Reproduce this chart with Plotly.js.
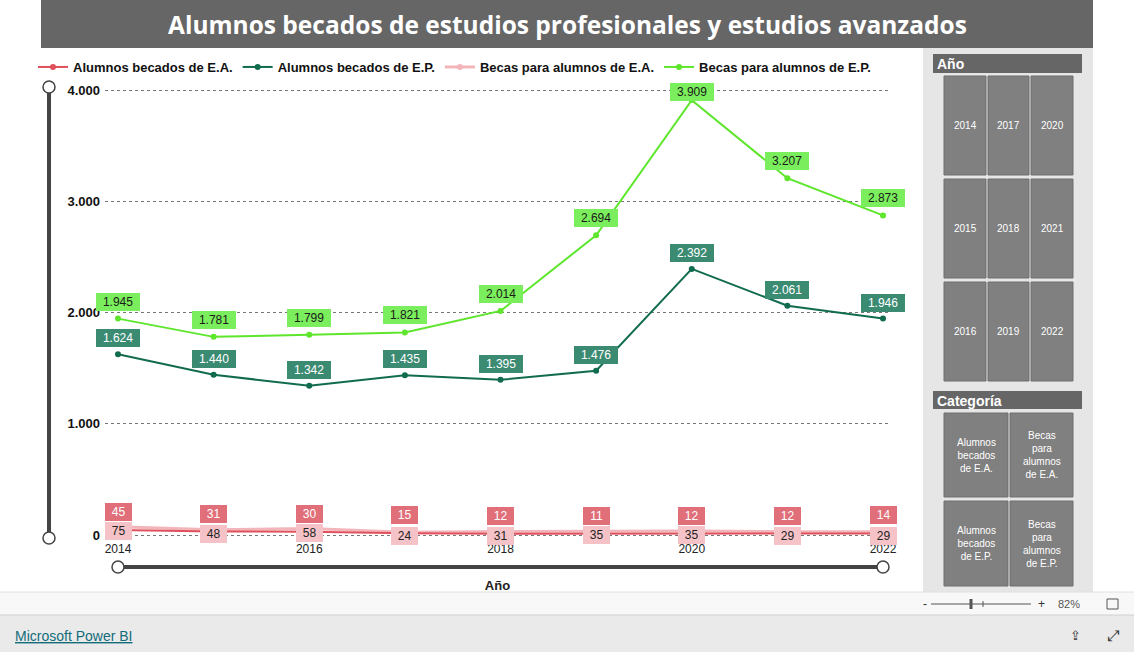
<!DOCTYPE html>
<html>
<head>
<meta charset="utf-8">
<script src="https://cdn.plot.ly/plotly-3.0.1.min.js"></script>
<style>
html,body{margin:0;padding:0;background:#ffffff;overflow:hidden;}
#chart{width:1134px;height:652px;}
</style>
</head>
<body>
<div id="chart"></div>
<script>
// ---- data ----
const years = [2014, 2015, 2016, 2017, 2018, 2019, 2020, 2021, 2022];
const alumnosEA = [45, 31, 30, 15, 12, 11, 12, 12, 14];
const alumnosEP = [1624, 1440, 1342, 1435, 1395, 1476, 2392, 2061, 1946];
const becasEA = [75, 48, 58, 24, 31, 35, 35, 29, 29];
const becasEP = [1945, 1781, 1799, 1821, 2014, 2694, 3909, 3207, 2873];
const seriesNames = ["Alumnos becados de E.A.", "Alumnos becados de E.P.", "Becas para alumnos de E.A.", "Becas para alumnos de E.P."];
const xTicks = [2014, 2016, 2018, 2020, 2022];
const yTicks = [0, 1000, 2000, 3000, 4000];
const yearButtons = [[2014, 2015, 2016], [2017, 2018, 2019], [2020, 2021, 2022]];
const categoryButtons = [["Alumnos<br>becados<br>de E.A.", "Alumnos<br>becados<br>de E.P."], ["Becas<br>para<br>alumnos<br>de E.A.", "Becas<br>para<br>alumnos<br>de E.P."]];
const titleText = "Alumnos becados de estudios profesionales y estudios avanzados";

// ---- geometry helpers (pixel -> paper) ----
const W = 1134, H = 652, ML = 105, MR = 244, MT = 85, MB = 112;
const PW = W - ML - MR, PH = H - MT - MB;
const px = X => (X - ML) / PW;
const py = Y => (H - MB - Y) / PH;

const colors = {
  aEA: "#e0505c", aEP: "#116b4f", bEA: "#f2b5ba", bEP: "#5ee62c",
  aEAlab: "#e06f79", aEPlab: "#3b8b73", bEAlab: "#f5c3c7", bEPlab: "#7aee5c"
};

function trace(name, y, color, width) {
  return {
    type: "scatter", mode: "lines+markers", name: name, x: years, y: y,
    line: {color: color, width: width},
    marker: {color: color, size: 6},
    hoverinfo: "x+y+name"
  };
}
const data = [
  trace(seriesNames[2], becasEA, colors.bEA, 3),
  trace(seriesNames[0], alumnosEA, colors.aEA, 2),
  trace(seriesNames[1], alumnosEP, colors.aEP, 2),
  trace(seriesNames[3], becasEP, colors.bEP, 2)
];
// legend order
data[0].legendrank = 3; data[1].legendrank = 1; data[2].legendrank = 2; data[3].legendrank = 4;

function fmt(v) { return v.toLocaleString("de-DE"); }
function textW(s) {
  let w = 0;
  for (const c of s) w += (c === "." ? 3.4 : 6.7);
  return w;
}
const annotations = [];
function addLabels(vals, bg, fg, shift) {
  vals.forEach((v, i) => {
    const t = fmt(v);
    let ys = shift;
    const pixY = (H - MB) - (v + 45) / 4090 * PH;
    if (pixY - ys < 92) ys = Math.max(pixY - 92, 6);
    annotations.push({
      x: years[i], y: v, xref: "x", yref: "y", text: t, showarrow: false,
      yshift: ys, bgcolor: bg, bordercolor: bg, borderwidth: 1, borderpad: 1,
      width: textW(t) + 10, height: 14,
      font: {family: "Liberation Sans, Arial, sans-serif", size: 12, color: fg}
    });
  });
}
addLabels(becasEA, colors.bEAlab, "#222222", -4);
addLabels(alumnosEA, colors.aEAlab, "#ffffff", 18);
addLabels(alumnosEP, colors.aEPlab, "#ffffff", 16);
addLabels(becasEP, colors.bEPlab, "#1a1a1a", 17);

const shapes = [];
function rectPx(x0, y0, x1, y1, fill, line, lw) {
  shapes.push({type: "rect", xref: "paper", yref: "paper", x0: px(x0), x1: px(x1), y0: py(y1), y1: py(y0),
    fillcolor: fill, line: {color: line || fill, width: lw === undefined ? 0 : lw}, layer: "below"});
}
function textPx(X, Y, text, size, color, opts) {
  annotations.push(Object.assign({
    xref: "paper", yref: "paper", x: px(X), y: py(Y), text: text, showarrow: false,
    xanchor: "center", yanchor: "middle",
    font: {family: "Liberation Sans, Arial, sans-serif", size: size, color: color}
  }, opts || {}));
}

// title bar
rectPx(41, 0, 1093, 48, "#666666");
textPx(567, 24, titleText, 24.5, "#ffffff", {font: {family: "Open Sans, sans-serif", size: 24.5, color: "#ffffff", weight: 700}});

// right slicer panel
rectPx(923, 48, 1093, 592, "#e6e6e6");
rectPx(933, 54, 1082, 73, "#666666");
textPx(935, 64, "Año", 14, "#ffffff", {xanchor: "left", font: {family: "Liberation Sans, Arial, sans-serif", size: 14, color: "#ffffff", weight: 700}});
const ycols = [[944, 986], [988, 1029], [1031, 1073]];
const yrows = [[76, 175], [179, 278], [282, 381]];
yearButtons.forEach((col, ci) => col.forEach((yr, ri) => {
  rectPx(ycols[ci][0], yrows[ri][0], ycols[ci][1], yrows[ri][1], "#808080", "#6f6f6f", 1);
  textPx((ycols[ci][0] + ycols[ci][1]) / 2, (yrows[ri][0] + yrows[ri][1]) / 2, String(yr), 10, "#ffffff");
}));
rectPx(933, 391, 1082, 409, "#666666");
textPx(935, 401, "Categoría", 14, "#ffffff", {xanchor: "left", font: {family: "Liberation Sans, Arial, sans-serif", size: 14, color: "#ffffff", weight: 700}});
const ccols = [[944, 1008], [1010, 1073]];
const crows = [[413, 497], [501, 586]];
categoryButtons.forEach((col, ci) => col.forEach((txt, ri) => {
  rectPx(ccols[ci][0], crows[ri][0], ccols[ci][1], crows[ri][1], "#808080", "#6f6f6f", 1);
  textPx((ccols[ci][0] + ccols[ci][1]) / 2, (crows[ri][0] + crows[ri][1]) / 2, txt, 10, "#ffffff");
}));

// bottom bars
rectPx(0, 592, 1134, 615, "#f8f8f8");
shapes.push({type: "line", xref: "paper", yref: "paper", x0: px(0), x1: px(1134), y0: py(592), y1: py(592), line: {color: "#e0e0e0", width: 1}});
rectPx(0, 615, 1134, 652, "#eaeaea");
shapes.push({type: "line", xref: "paper", yref: "paper", x0: px(0), x1: px(1134), y0: py(615), y1: py(615), line: {color: "#d0d0d0", width: 1}});
textPx(925, 604, "-", 12, "#333333");
shapes.push({type: "line", xref: "paper", yref: "paper", x0: px(931), x1: px(1031), y0: py(604), y1: py(604), line: {color: "#555555", width: 1}});
shapes.push({type: "line", xref: "paper", yref: "paper", x0: px(971), x1: px(971), y0: py(599), y1: py(609), line: {color: "#555555", width: 3}});
shapes.push({type: "line", xref: "paper", yref: "paper", x0: px(983), x1: px(983), y0: py(601), y1: py(607), line: {color: "#555555", width: 1}});
textPx(1041, 604, "+", 12, "#333333");
textPx(1069, 604, "82%", 11, "#555555");
rectPx(1107, 599, 1118, 609, "rgba(0,0,0,0)", "#555555", 1);
textPx(13, 636, "<u>Microsoft Power BI</u>", 14, "#136c7a", {xanchor: "left"});
textPx(1075, 635, "⇪", 13, "#333333");
textPx(1113, 635, "⤢", 15, "#333333");

// sliders
const sliderC = "#444444";
shapes.push({type: "line", xref: "paper", yref: "y", x0: px(49), x1: px(49), y0: 0, y1: 4000, line: {color: sliderC, width: 4}});
shapes.push({type: "circle", xref: "paper", yref: "paper", x0: px(43), x1: px(55), y0: py(93), y1: py(81), fillcolor: "#ffffff", line: {color: sliderC, width: 1.5}});
shapes.push({type: "circle", xref: "paper", yref: "paper", x0: px(43), x1: px(55), y0: py(544), y1: py(532), fillcolor: "#ffffff", line: {color: sliderC, width: 1.5}});
shapes.push({type: "line", xref: "x", yref: "paper", x0: years[0], x1: years[years.length - 1], y0: py(567), y1: py(567), line: {color: sliderC, width: 4}});
shapes.push({type: "circle", xref: "paper", yref: "paper", x0: px(112), x1: px(124), y0: py(573), y1: py(561), fillcolor: "#ffffff", line: {color: sliderC, width: 1.5}});
shapes.push({type: "circle", xref: "paper", yref: "paper", x0: px(877), x1: px(889), y0: py(573), y1: py(561), fillcolor: "#ffffff", line: {color: sliderC, width: 1.5}});

const layout = {
  width: W, height: H,
  margin: {l: ML, r: MR, t: MT, b: MB, pad: 0},
  paper_bgcolor: "#ffffff", plot_bgcolor: "#ffffff",
  separators: ",.",
  showlegend: true,
  legend: {
    orientation: "h", x: px(33), y: py(67), xanchor: "left", yanchor: "middle",
    font: {family: "Liberation Sans, Arial, sans-serif", size: 13, color: "#111111", weight: 700},
    bgcolor: "rgba(0,0,0,0)", itemwidth: 30, tracegroupgap: 0, traceorder: "normal"
  },
  xaxis: {
    range: [2014 - 13 / 95.625, 2022 + 7 / 95.625],
    tickvals: xTicks, ticktext: xTicks.map(String),
    showgrid: false, zeroline: false, showline: false, ticks: "",
    tickfont: {family: "Liberation Sans, Arial, sans-serif", size: 12, color: "#222222"},
    title: {text: "Año", standoff: 25, font: {family: "Liberation Sans, Arial, sans-serif", size: 13, color: "#222222", weight: 700}},
    fixedrange: true
  },
  yaxis: {
    range: [-5 / 0.11125, 4000 + 5 / 0.11125],
    tickvals: yTicks, tickformat: ",d",
    showgrid: true, gridcolor: "#777777", griddash: "dot", gridwidth: 1,
    zeroline: false, showline: false, ticks: "",
    tickfont: {family: "Liberation Sans, Arial, sans-serif", size: 13, color: "#111111", weight: 700},
    ticklabelstandoff: 4,
    fixedrange: true
  },
  shapes: shapes,
  annotations: annotations
};

Plotly.newPlot("chart", data, layout, {displayModeBar: false, responsive: false});
</script>
</body>
</html>
